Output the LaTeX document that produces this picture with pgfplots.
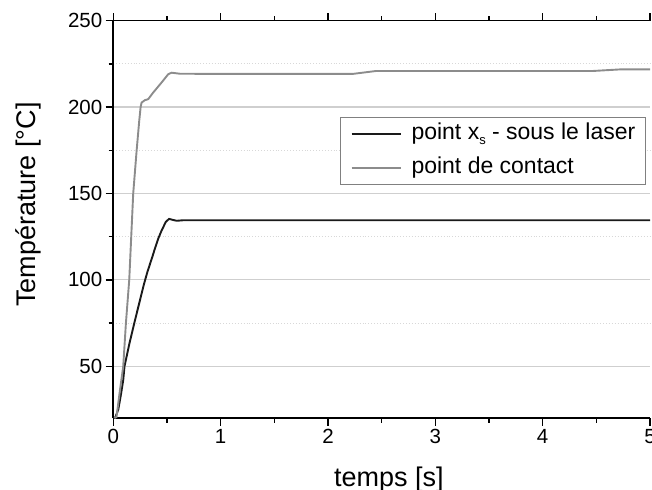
\documentclass[border=0pt]{standalone}
\usepackage{pgfplots}
\pgfplotsset{compat=1.18}
\usepackage{fontspec}
\setmainfont{Liberation Sans}

\definecolor{curveA}{HTML}{1A1A1A}
\definecolor{curveB}{HTML}{8C8C8C}
\definecolor{gridmaj}{HTML}{CFCFCF}
\definecolor{gridmin}{HTML}{D8D8D8}

\begin{document}
\begin{tikzpicture}
\begin{axis}[
    scale only axis,
    width=537pt, height=397.6pt,
    xmin=0, xmax=5, ymin=20, ymax=250,
    axis x line=box, axis y line=left,
    every non boxed y axis/.style={},
    axis line style={-, line width=1.6pt, black},
    xtick={0,1,2,3,4,5}, ytick={50,100,150,200,250},
    minor x tick num=1, minor y tick num=1,
    tick align=outside,
    xticklabel pos=lower,
    major tick length=7.5pt, minor tick length=4.5pt,
    tick style={line width=1.4pt, black},
    ymajorgrids, yminorgrids,
    major grid style={gridmaj, line width=1.2pt},
    minor grid style={gridmin, line width=0.9pt, dotted},
    /pgf/number format/assume math mode=true,
    ticklabel style={font=\fontsize{20.5}{24}\selectfont},
    xlabel={temps [s]},
    ylabel={Température [°C]},
    label style={font=\fontsize{27}{32}\selectfont},
    xlabel style={at={(axis description cs:0.5134,-0.171)}, anchor=base},
    ylabel style={at={(axis description cs:-0.1453,0.5377)}, anchor=base, rotate=0},
    legend cell align=left,
    legend image code/.code={\draw[#1] (0pt,0pt) -- (49pt,0pt); \path (59pt,0pt);},
    legend image post style={line width=2pt},
    legend style={at={(0.992,0.7586)}, anchor=north east,
        draw=gray, line width=0.9pt, inner xsep=10pt, inner ysep=4pt,
        font=\fontsize{23}{27}\selectfont,
        nodes={inner xsep=0pt, inner ysep=1pt, text height=17pt, text depth=6pt},
        row sep=9pt},
]
\coordinate (sw) at (rel axis cs:0,0);
\coordinate (ne) at (rel axis cs:1,1);
\addplot[curveA, line width=1.9pt] coordinates {
    (0.005,20) (0.02,20.5) (0.047,25) (0.07,33) (0.093,42) (0.105,50)
    (0.15,63) (0.2,76) (0.25,88.5) (0.286,97.5) (0.32,105) (0.36,112.5)
    (0.39,118.5) (0.42,124) (0.45,128.5) (0.49,133.6) (0.52,135.3)
    (0.55,134.8) (0.59,134.2) (0.65,134.5) (1,134.5) (2,134.5) (3,134.5)
    (4,134.5) (5,134.5)
};
\addlegendentry{point x\raisebox{-0.45ex}{\fontsize{13}{13}\selectfont s} - sous le laser}
\addplot[curveB, line width=1.9pt] coordinates {
    (0.01,20) (0.03,20.6) (0.06,35) (0.093,50) (0.118,75) (0.149,100)
    (0.186,150) (0.218,175) (0.242,192) (0.255,200) (0.264,202.6)
    (0.295,204) (0.326,204.6) (0.372,208.4) (0.45,214.2) (0.512,219)
    (0.543,219.9) (0.62,219.3) (1,219.2) (2.23,219.2) (2.45,220.9)
    (4.47,220.9) (4.72,221.8) (5,221.8)
};
\addlegendentry{point de contact}
\end{axis}
\pgfresetboundingbox
\path[use as bounding box] ([shift={(-113.3pt,-71.7pt)}]sw) rectangle ([shift={(2pt,20.7pt)}]ne);
\end{tikzpicture}
\end{document}
